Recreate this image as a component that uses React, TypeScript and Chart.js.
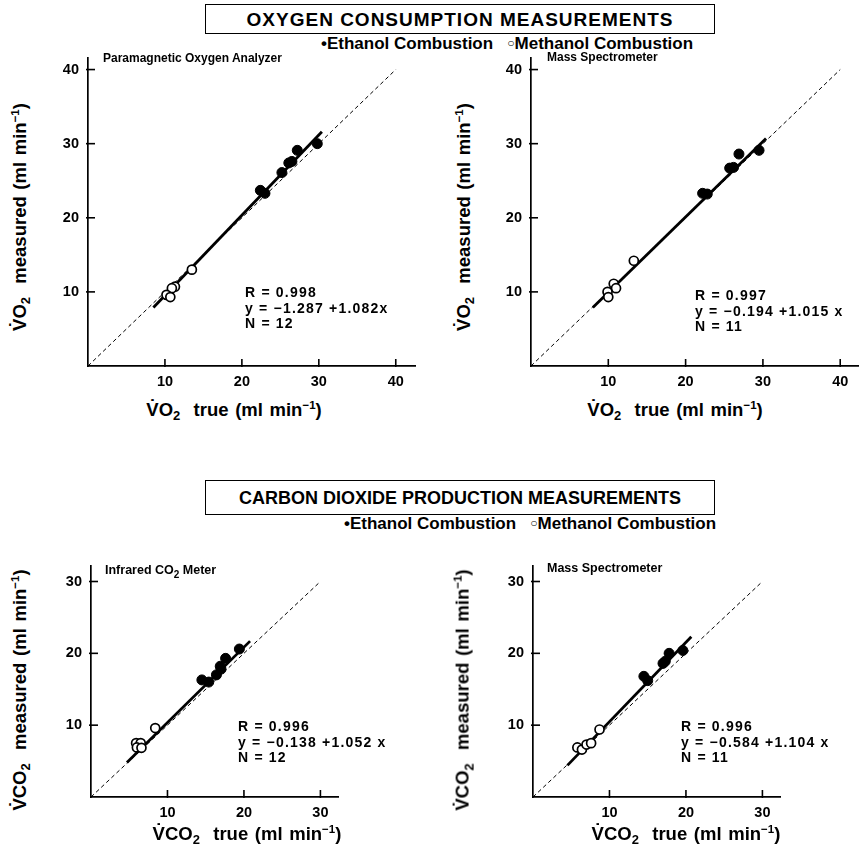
import React, { useEffect, useRef } from "react";
import { Chart, registerables } from "chart.js";
Chart.register(...registerables);

// ---- Data ----
// O2 – Paramagnetic Oxygen Analyzer
const o2ParaEthanolX = [29.8, 27.2, 26.1, 26.5, 25.2, 22.4, 23.0];
const o2ParaEthanolY = [30.0, 29.1, 27.4, 27.6, 26.1, 23.7, 23.3];
const o2ParaMethanolX = [13.5, 11.3, 10.9, 10.2, 10.7];
const o2ParaMethanolY = [13.0, 10.7, 10.5, 9.6, 9.3];
const o2ParaFitX = [8.5, 30.4];
const o2ParaFitY = [7.9, 31.6];

// O2 – Mass Spectrometer
const o2MassEthanolX = [29.5, 26.9, 25.7, 26.2, 22.2, 22.8];
const o2MassEthanolY = [29.1, 28.6, 26.7, 26.8, 23.3, 23.2];
const o2MassMethanolX = [13.3, 10.7, 11.0, 9.9, 10.0];
const o2MassMethanolY = [14.2, 11.1, 10.5, 10.0, 9.3];
const o2MassFitX = [8.0, 30.4];
const o2MassFitY = [7.9, 30.7];

// CO2 – Infrared CO2 Meter
const co2IrEthanolX = [19.4, 17.6, 16.9, 17.0, 16.4, 14.5, 15.4];
const co2IrEthanolY = [20.6, 19.3, 18.2, 17.8, 17.0, 16.3, 16.0];
const co2IrMethanolX = [8.4, 5.9, 6.5, 6.0, 6.6];
const co2IrMethanolY = [9.6, 7.5, 7.5, 6.9, 6.85];
const co2IrFitX = [4.7, 20.8];
const co2IrFitY = [4.8, 21.7];

// CO2 – Mass Spectrometer
const co2MassEthanolX = [19.6, 17.8, 17.3, 17.0, 14.5, 15.0];
const co2MassEthanolY = [20.4, 20.0, 18.9, 18.6, 16.8, 16.2];
const co2MassMethanolX = [8.7, 5.8, 6.4, 7.0, 7.6];
const co2MassMethanolY = [9.4, 6.9, 6.6, 7.3, 7.5];
const co2MassFitX = [4.5, 20.7];
const co2MassFitY = [4.4, 22.3];

const o2TickValues = [10, 20, 30, 40];
const co2TickValues = [10, 20, 30];
const o2IdentityMax = 40;
const co2IdentityMax = 30;

const FONT = "'Liberation Sans', Arial, Helvetica, sans-serif";

const pts = (xs: number[], ys: number[]) => xs.map((x, i) => ({ x, y: ys[i] }));

const innerTicks = {
  id: "innerTicks",
  afterDraw(chart: any) {
    const { ctx, scales, chartArea } = chart;
    const x = scales.x;
    const y = scales.y;
    ctx.save();
    ctx.strokeStyle = "#000";
    ctx.lineWidth = 1.6;
    for (const t of x.ticks) {
      const px = x.getPixelForValue(t.value);
      ctx.beginPath();
      ctx.moveTo(px, chartArea.bottom + 1);
      ctx.lineTo(px, chartArea.bottom - 7);
      ctx.stroke();
    }
    for (const t of y.ticks) {
      const py = y.getPixelForValue(t.value);
      ctx.beginPath();
      ctx.moveTo(chartArea.left - 2, py);
      ctx.lineTo(chartArea.left + 7, py);
      ctx.stroke();
    }
    ctx.restore();
  },
};

type PanelProps = {
  ethX: number[]; ethY: number[]; metX: number[]; metY: number[];
  fitX: number[]; fitY: number[]; identityMax: number; tickValues: number[];
  xMax: number; yMax: number;
  originX: number; originY: number; rightX: number; topY: number;
};

function Panel(p: PanelProps) {
  const ref = useRef<HTMLCanvasElement | null>(null);
  const padL = 50, padB = 32, padT = 10, padR = 10;
  const width = p.rightX - p.originX + padL + padR;
  const height = p.originY - p.topY + padT + padB;
  useEffect(() => {
    if (!ref.current) return;
    const tickFont = { family: FONT, size: 14.5, weight: "bold" as const };
    const chart = new Chart(ref.current, {
      type: "scatter",
      data: {
        datasets: [
          {
            label: "Ethanol Combustion",
            data: pts(p.ethX, p.ethY),
            pointRadius: 5,
            backgroundColor: "#000",
            borderColor: "#000",
            borderWidth: 1,
          },
          {
            label: "Methanol Combustion",
            data: pts(p.metX, p.metY),
            pointRadius: 4.5,
            backgroundColor: "#fff",
            borderColor: "#000",
            borderWidth: 1.7,
          },
          {
            type: "line" as any,
            label: "Regression",
            data: pts(p.fitX, p.fitY),
            borderColor: "#000",
            borderWidth: 2.8,
            pointRadius: 0,
            fill: false,
          } as any,
          {
            type: "line" as any,
            label: "Identity",
            data: [{ x: 0, y: 0 }, { x: p.identityMax, y: p.identityMax }],
            borderColor: "#000",
            borderWidth: 1,
            borderDash: [4, 3],
            pointRadius: 0,
            fill: false,
          } as any,
        ],
      },
      options: {
        animation: false,
        responsive: false,
        maintainAspectRatio: false,
        layout: { padding: { top: padT, right: padR, left: 0, bottom: 0 } },
        plugins: { legend: { display: false }, tooltip: { enabled: false } },
        scales: {
          x: {
            type: "linear",
            min: 0,
            max: p.xMax,
            grid: { display: false, drawTicks: false },
            border: { display: true, color: "#000", width: 1.7 },
            afterBuildTicks: (s: any) => { s.ticks = p.tickValues.map((v) => ({ value: v })); },
            afterFit: (s: any) => { s.height = padB; },
            ticks: { color: "#000", font: tickFont, padding: 7, maxRotation: 0 },
          },
          y: {
            type: "linear",
            min: 0,
            max: p.yMax,
            grid: { display: false, drawTicks: false },
            border: { display: true, color: "#000", width: 1.7 },
            afterBuildTicks: (s: any) => { s.ticks = p.tickValues.map((v) => ({ value: v })); },
            afterFit: (s: any) => { s.width = padL; },
            ticks: { color: "#000", font: tickFont, padding: 9 },
          },
        },
      },
      plugins: [innerTicks],
    });
    return () => chart.destroy();
  }, []);
  return (
    <canvas
      ref={ref}
      width={width}
      height={height}
      style={{ position: "absolute", left: p.originX - padL, top: p.topY - padT, width, height }}
    />
  );
}

const abs = (extra: React.CSSProperties): React.CSSProperties => ({
  position: "absolute",
  fontFamily: FONT,
  color: "#000",
  whiteSpace: "nowrap",
  lineHeight: 1,
  ...extra,
});

function Stats({ x, y, r, eq, n }: { x: number; y: number; r: string; eq: string; n: string }) {
  const s = { fontSize: 14, fontWeight: "bold" as const, letterSpacing: 1.2 };
  return (
    <div style={abs({ left: x, top: y, ...s, lineHeight: "15.5px" })}>
      <div>{r}</div>
      <div>{eq}</div>
      <div>{n}</div>
    </div>
  );
}

const titleStyle = { fontSize: 18.5, fontWeight: "bold" as const, wordSpacing: 1.5 };

function YTitle({ cx, cy, gas }: { cx: number; cy: number; gas: string }) {
  return (
    <div style={abs({ left: cx, top: cy, transform: "translate(-50%, -50%) rotate(-90deg)", ...titleStyle })}>
      V&#775;{gas}
      <sub style={{ fontSize: 13 }}>2</sub>
      &nbsp; measured (ml min<sup style={{ fontSize: 11.5 }}>&minus;1</sup>)
    </div>
  );
}

function XTitle({ cx, cy, gas }: { cx: number; cy: number; gas: string }) {
  return (
    <div style={abs({ left: cx, top: cy, transform: "translate(-50%, -50%)", ...titleStyle })}>
      V&#775;{gas}
      <sub style={{ fontSize: 13 }}>2</sub>
      &nbsp; true (ml min<sup style={{ fontSize: 11.5 }}>&minus;1</sup>)
    </div>
  );
}

const legendStyle = { fontSize: 17, fontWeight: "bold" as const };

function Legend({ cx, cy }: { cx: number; cy: number }) {
  return (
    <div style={abs({ left: cx, top: cy, transform: "translate(-50%, -50%)", ...legendStyle })}>
      &bull;Ethanol Combustion&nbsp;&nbsp;&nbsp;
      <span style={{ fontSize: 12, fontWeight: "normal", position: "relative", top: -2 }}>&#9675;</span>
      Methanol Combustion
    </div>
  );
}

export default function App() {
  return (
    <div style={{ position: "fixed", left: 0, top: 0, width: 862, height: 848, background: "#fff", overflow: "hidden" }}>
      {/* Top header */}
      <div
        style={abs({
          left: 205, top: 4, width: 510, height: 30, border: "1.5px solid #000", boxSizing: "border-box",
          display: "flex", alignItems: "center", justifyContent: "center", fontSize: 19, fontWeight: "bold", letterSpacing: 1,
        })}
      >
        OXYGEN CONSUMPTION MEASUREMENTS
      </div>
      <Legend cx={507} cy={43} />

      <Panel
        ethX={o2ParaEthanolX} ethY={o2ParaEthanolY} metX={o2ParaMethanolX} metY={o2ParaMethanolY}
        fitX={o2ParaFitX} fitY={o2ParaFitY} identityMax={o2IdentityMax} tickValues={o2TickValues}
        xMax={42.5} yMax={41.6} originX={88} originY={366} rightX={415} topY={50}
      />
      <Panel
        ethX={o2MassEthanolX} ethY={o2MassEthanolY} metX={o2MassMethanolX} metY={o2MassMethanolY}
        fitX={o2MassFitX} fitY={o2MassFitY} identityMax={o2IdentityMax} tickValues={o2TickValues}
        xMax={42.3} yMax={41.6} originX={531} originY={366} rightX={858} topY={50}
      />
      <Panel
        ethX={co2IrEthanolX} ethY={co2IrEthanolY} metX={co2IrMethanolX} metY={co2IrMethanolY}
        fitX={co2IrFitX} fitY={co2IrFitY} identityMax={co2IdentityMax} tickValues={co2TickValues}
        xMax={32.3} yMax={32.2} originX={91} originY={797} rightX={338} topY={558}
      />
      <Panel
        ethX={co2MassEthanolX} ethY={co2MassEthanolY} metX={co2MassMethanolX} metY={co2MassMethanolY}
        fitX={co2MassFitX} fitY={co2MassFitY} identityMax={co2IdentityMax} tickValues={co2TickValues}
        xMax={32.3} yMax={32.2} originX={533} originY={797} rightX={780} topY={558}
      />

      {/* panel labels */}
      <div style={abs({ left: 103, top: 52, fontSize: 12, fontWeight: "bold" })}>Paramagnetic Oxygen Analyzer</div>
      <div style={abs({ left: 547, top: 51, fontSize: 12, fontWeight: "bold" })}>Mass Spectrometer</div>
      <div style={abs({ left: 105, top: 564, fontSize: 12.5, fontWeight: "bold" })}>
        Infrared CO<sub style={{ fontSize: 10 }}>2</sub> Meter
      </div>
      <div style={abs({ left: 547, top: 562, fontSize: 12.5, fontWeight: "bold" })}>Mass Spectrometer</div>

      <Stats x={245} y={285} r="R = 0.998" eq="y = −1.287 +1.082x" n="N = 12" />
      <Stats x={695} y={288} r="R = 0.997" eq="y = −0.194 +1.015 x" n="N = 11" />
      <Stats x={238} y={719} r="R = 0.996" eq="y = −0.138 +1.052 x" n="N = 12" />
      <Stats x={681} y={719} r="R = 0.996" eq="y = −0.584 +1.104 x" n="N = 11" />

      <YTitle cx={21} cy={217} gas="O" />
      <XTitle cx={234} cy={411} gas="O" />
      <YTitle cx={465} cy={217} gas="O" />
      <XTitle cx={675} cy={411} gas="O" />

      {/* Bottom header */}
      <div
        style={abs({
          left: 205, top: 480, width: 510, height: 35, border: "1.5px solid #000", boxSizing: "border-box",
          display: "flex", alignItems: "center", justifyContent: "center", fontSize: 18, fontWeight: "bold",
        })}
      >
        CARBON DIOXIDE PRODUCTION MEASUREMENTS
      </div>
      <Legend cx={530} cy={523} />

      <YTitle cx={21} cy={690} gas="CO" />
      <XTitle cx={247} cy={835} gas="CO" />
      <YTitle cx={464} cy={690} gas="CO" />
      <XTitle cx={686} cy={835} gas="CO" />
    </div>
  );
}
